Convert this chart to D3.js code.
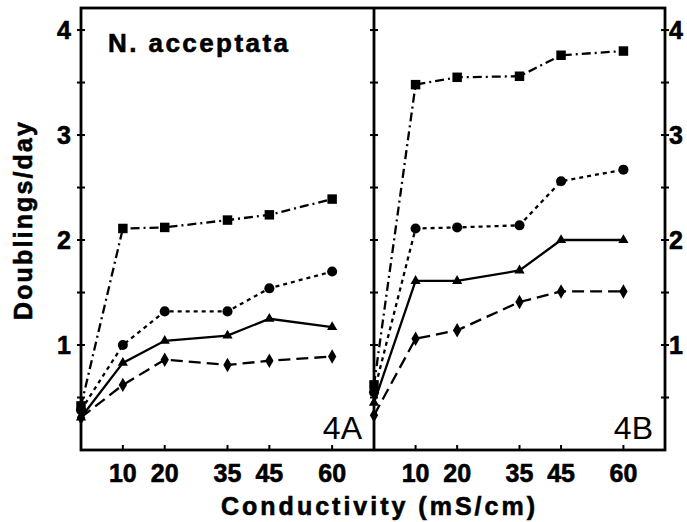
<!DOCTYPE html>
<html>
<head>
<meta charset="utf-8">
<script src="https://cdn.jsdelivr.net/npm/d3@7"></script>
<style>
  html, body { margin: 0; padding: 0; background: #fff; }
  svg { display: block; }
  text { font-family: "Liberation Sans", Arial, Helvetica, sans-serif; fill: #000; }
  text.heavy { stroke: #000; stroke-width: 0.6px; }
</style>
</head>
<body>
<svg id="chart" width="687" height="522"></svg>
<script>
// Conductivity levels (mS/cm) at which growth was measured
const conductivity = [0, 10, 20, 35, 45, 60];
const xTickValues = [10, 20, 35, 45, 60];
const yTickValues = [0.5, 1, 1.5, 2, 2.5, 3, 3.5, 4];
const yLabelValues = [1, 2, 3, 4];

// Panel 4A: doublings per day for the four series
const panelA_square   = [0.42, 2.11, 2.12, 2.19, 2.24, 2.39];
const panelA_circle   = [0.38, 1.00, 1.32, 1.32, 1.54, 1.70];
const panelA_triangle = [0.31, 0.83, 1.04, 1.09, 1.25, 1.17];
const panelA_diamond  = [0.31, 0.62, 0.86, 0.81, 0.85, 0.89];

// Panel 4B
const panelB_square   = [0.62, 3.48, 3.55, 3.56, 3.76, 3.80];
const panelB_circle   = [0.55, 2.11, 2.12, 2.14, 2.56, 2.67];
const panelB_triangle = [0.45, 1.61, 1.61, 1.71, 2.00, 2.00];
const panelB_diamond  = [0.33, 1.06, 1.14, 1.41, 1.51, 1.51];

const panelLabels = ["4A", "4B"];
const speciesName = "N. acceptata";
const yTitle = "Doublings/day";
const xTitle = "Conductivity (mS/cm)";

const svg = d3.select("#chart");
const plotTop = 8, plotBottom = 450;
const y = d3.scaleLinear().domain([0, 4.21]).range([plotBottom, plotTop]);

const seriesStyles = [
  { key: "square",   dash: "9,4,2,4", symbol: d3.symbolSquare,   size: 90 },
  { key: "circle",   dash: "4,4",     symbol: d3.symbolCircle,   size: 80 },
  { key: "triangle", dash: null,      symbol: d3.symbolTriangle, size: 45 },
  { key: "diamond",  dash: "12,6",    symbol: d3.symbolDiamond,  size: 60 }
];

const panels = [
  { left: 81,  right: 374, label: panelLabels[0],
    series: { square: panelA_square, circle: panelA_circle, triangle: panelA_triangle, diamond: panelA_diamond } },
  { left: 374, right: 665, label: panelLabels[1],
    series: { square: panelB_square, circle: panelB_circle, triangle: panelB_triangle, diamond: panelB_diamond } }
];

panels.forEach(p => {
  const x = d3.scaleLinear().domain([0, 70]).range([p.left, p.right]);
  const g = svg.append("g");

  // series lines and markers
  seriesStyles.forEach(s => {
    const vals = p.series[s.key];
    const pts = conductivity.map((c, k) => [c, vals[k]]);
    const line = d3.line().x(d => x(d[0])).y(d => y(d[1]));
    g.append("path")
      .attr("d", line(pts))
      .attr("fill", "none")
      .attr("stroke", "#000")
      .attr("stroke-width", 2.3)
      .attr("stroke-dasharray", s.dash);
    g.selectAll(null).data(pts).enter().append("path")
      .attr("transform", d => `translate(${x(d[0])},${y(d[1])})`)
      .attr("d", d3.symbol().type(s.symbol).size(s.size))
      .attr("fill", "#000");
  });

  // x ticks (inward from the bottom edge)
  g.selectAll(null).data(xTickValues).enter().append("line")
    .attr("x1", d => x(d)).attr("x2", d => x(d))
    .attr("y1", plotBottom).attr("y2", plotBottom - 5)
    .attr("stroke", "#000").attr("stroke-width", 2);

  g.selectAll(null).data(xTickValues).enter().append("text")
    .attr("class", "heavy")
    .attr("x", d => x(d)).attr("y", 482)
    .attr("text-anchor", "middle")
    .attr("font-weight", "bold")
    .attr("font-size", 25)
    .text(d => d);

  // panel label
  g.append("text")
    .attr("x", x(70) - 12).attr("y", 439)
    .attr("text-anchor", "end")
    .attr("font-size", 32)
    .text(p.label);
});

// panel frames
svg.append("rect")
  .attr("x", 81).attr("y", plotTop)
  .attr("width", 665 - 81).attr("height", plotBottom - plotTop)
  .attr("fill", "none").attr("stroke", "#000").attr("stroke-width", 2.8);
svg.append("line")
  .attr("x1", 374).attr("x2", 374).attr("y1", plotTop).attr("y2", plotBottom)
  .attr("stroke", "#000").attr("stroke-width", 2.8);

// y ticks crossing each vertical edge
[81, 374, 665].forEach(ax => {
  svg.selectAll(null).data(yTickValues).enter().append("line")
    .attr("x1", ax - 4).attr("x2", ax + 4)
    .attr("y1", d => y(d)).attr("y2", d => y(d))
    .attr("stroke", "#000").attr("stroke-width", 2);
});

// y tick labels, left and right
svg.selectAll(null).data(yLabelValues).enter().append("text")
  .attr("class", "heavy")
  .attr("x", 71).attr("y", d => y(d)).attr("dy", "0.36em")
  .attr("text-anchor", "end")
  .attr("font-weight", "bold").attr("font-size", 25)
  .text(d => d);
svg.selectAll(null).data(yLabelValues).enter().append("text")
  .attr("class", "heavy")
  .attr("x", 669).attr("y", d => y(d)).attr("dy", "0.36em")
  .attr("text-anchor", "start")
  .attr("font-weight", "bold").attr("font-size", 25)
  .text(d => d);

// species name
svg.append("text")
  .attr("class", "heavy")
  .attr("x", 108).attr("y", 52)
  .attr("font-weight", "bold").attr("font-size", 26)
  .attr("textLength", 180).attr("lengthAdjust", "spacing")
  .text(speciesName);

// axis titles
svg.append("text")
  .attr("class", "heavy")
  .attr("transform", "translate(32,221) rotate(-90)")
  .attr("text-anchor", "middle")
  .attr("font-weight", "bold").attr("font-size", 25)
  .attr("textLength", 198).attr("lengthAdjust", "spacing")
  .text(yTitle);

svg.append("text")
  .attr("class", "heavy")
  .attr("x", 221).attr("y", 515)
  .attr("font-weight", "bold").attr("font-size", 25)
  .attr("textLength", 314).attr("lengthAdjust", "spacing")
  .text(xTitle);
</script>
</body>
</html>
